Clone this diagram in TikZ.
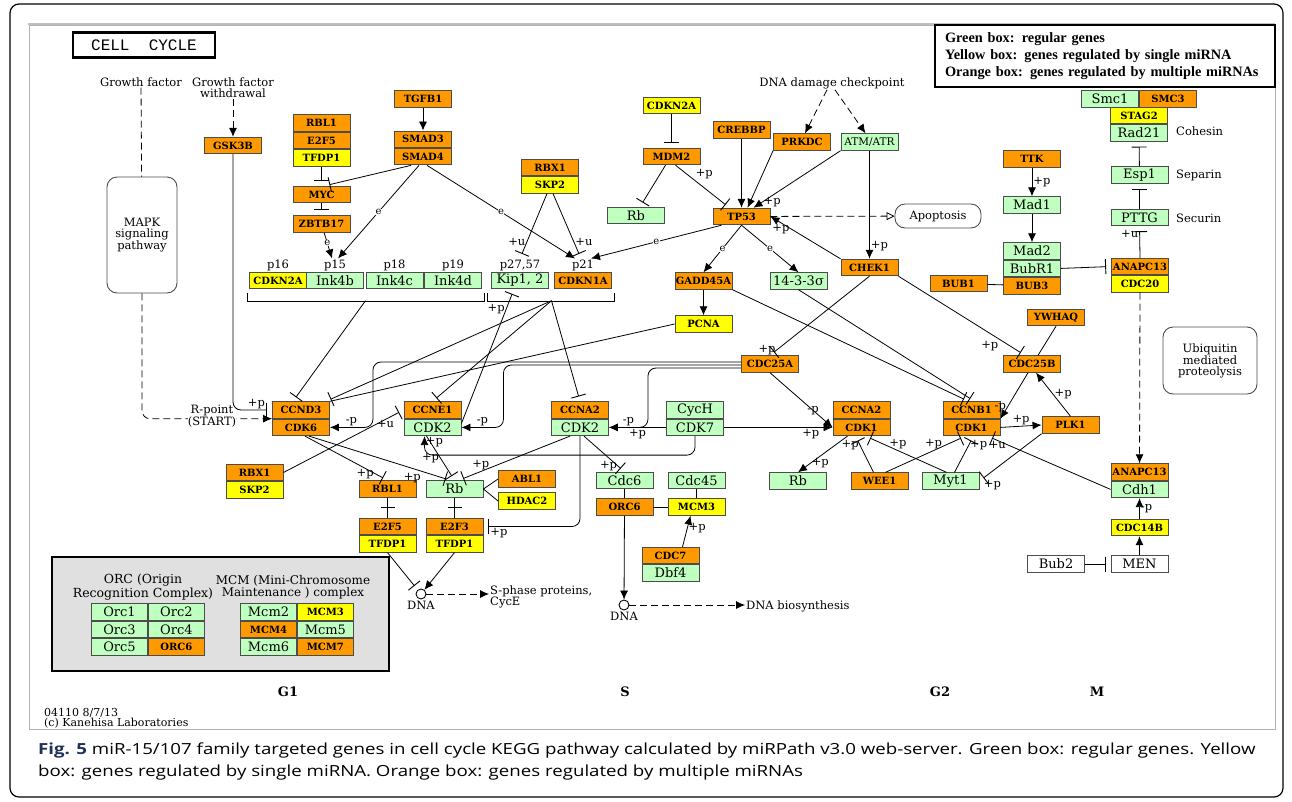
\documentclass[tikz,border=0pt]{standalone}
\usepackage{fontspec}
\usepackage{xcolor}
\usepackage{tikz}
\usetikzlibrary{arrows.meta,positioning,calc,decorations.markings}

\newfontfamily\keggfont{DejaVu Serif}
\newfontfamily\legendfont{Liberation Serif}
\newfontfamily\capfont[FakeStretch=1.22]{Open Sans}
\setmonofont{Liberation Mono}

\definecolor{kgreen}{RGB}{191,255,191}
\definecolor{kyellow}{RGB}{255,255,0}
\definecolor{korange}{RGB}{255,153,0}
\definecolor{figblue}{RGB}{30,50,90}

\newcommand{\genefont}{\keggfont\bfseries\fontsize{10}{10}\selectfont}
\newcommand{\protfont}{\keggfont\fontsize{13}{13}\selectfont}
\newcommand{\keggtext}{\keggfont\fontsize{11.5}{11}\selectfont}

\tikzset{
    gene/.style={
        draw=black!70,
        line width=0.9pt,
        minimum width=57pt,
        minimum height=16.5pt,
        inner sep=0pt
    },
    greenbox/.style={gene, fill=kgreen, font=\protfont},
    yellowbox/.style={gene, fill=kyellow, font=\genefont},
    orangebox/.style={gene, fill=korange, font=\genefont},
    whitebox/.style={gene, fill=white, font=\protfont},
    pathbox/.style={
        draw=black!70,
        line width=0.9pt,
        rounded corners=10pt,
        fill=white,
        align=center,
        font=\keggtext
    },
    lbl/.style={font=\keggtext, inner sep=1pt},
    elbl/.style={font=\keggfont\fontsize{10}{10}\selectfont, fill=white, inner sep=0.5pt},
    phase/.style={font=\keggfont\bfseries\fontsize{13}{13}\selectfont},
    dnacirc/.style={circle, draw, line width=0.9pt, fill=white, minimum size=10pt, inner sep=0pt},
    bind/.style={line width=0.8pt},
    act/.style={
        line width=0.8pt,
        -{Latex[length=9pt,width=8pt]}
    },
    inh/.style={
        line width=0.8pt,
        -{Bar[width=15pt,line width=0.9pt]},
        shorten >=5pt
    },
    dashline/.style={line width=0.8pt, dash pattern=on 7pt off 4pt},
    dashact/.style={act, dash pattern=on 7pt off 4pt},
    crossbar/.style={
        bind,
        postaction={decorate},
        decoration={markings, mark=at position 0.5 with {\draw[line width=0.8pt] (0pt,-7pt) -- (0pt,7pt);}}
    }
}

\begin{document}
\begin{tikzpicture}[x=1pt,y=-1pt]
    \useasboundingbox (0,0) rectangle (1292,801);
    \draw[black, line width=1.2pt, rounded corners=9pt] (10,4) rectangle (1283,797);
    \draw[black!30, line width=0.8pt] (29,25) rectangle (1275,729);
    \draw[black!25, line width=2pt] (28,24) -- (1275,24);

    % title and legend
    \node[draw, line width=2.2pt, minimum width=142pt, minimum height=25pt,
          font=\ttfamily\fontsize{16}{16}\selectfont] (title) at (144,45) {CELL\ \ CYCLE};
    \node[draw, line width=1.6pt, minimum width=340pt, minimum height=62pt,
          text width=320pt, inner xsep=10pt, align=left,
          font=\legendfont\bfseries\fontsize{14.3}{17}\selectfont] (legend) at (1105,56) {
        Green box: regular genes\\
        Yellow box: genes regulated by single miRNA\\
        Orange box: genes regulated by multiple miRNAs
    };

    % growth factor inputs
    \node[lbl] (gf) at (141,82) {Growth factor};
    \node[lbl, align=center] (gfw) at (233,88) {Growth factor\\withdrawal};
    \node[pathbox, minimum width=70pt, minimum height=116pt] (mapk) at (142,235) {MAPK\\signaling\\pathway};
    \node[orangebox] (gsk3b) at (233,145.5) {GSK3B};

    % TGF-beta / MYC branch
    \node[orangebox] (rbl1a) at (321.5,123) {RBL1};
    \node[orangebox, below=0pt of rbl1a] (e2f5a) {E2F5};
    \node[yellowbox, below=0pt of e2f5a] (tfdp1a) {TFDP1};
    \node[orangebox] (myc) at (321.5,194.5) {MYC};
    \node[orangebox] (zbtb17) at (321.5,224) {ZBTB17};
    \node[orangebox] (tgfb1) at (423,99) {TGFB1};
    \node[orangebox] (smad3) at (423,139.25) {SMAD3};
    \node[orangebox, below=0pt of smad3] (smad4) {SMAD4};
    \node[orangebox] (rbx1b) at (550,167.5) {RBX1};
    \node[yellowbox, below=0pt of rbx1b] (skp2b) {SKP2};

    % CDK inhibitors
    \node[yellowbox] (cdkn2ab) at (278,280.5) {CDKN2A};
    \node[greenbox] (ink4b) at (335,280.5) {Ink4b};
    \node[greenbox] (ink4c) at (394.5,280.5) {Ink4c};
    \node[greenbox] (ink4d) at (453,280.5) {Ink4d};
    \node[greenbox] (kip) at (520,280.5) {Kip1, 2};
    \node[orangebox] (cdkn1a) at (583,280.5) {CDKN1A};
    \node[lbl, above=0pt of cdkn2ab] (lp16) {p16};
    \node[lbl, above=0pt of ink4b] (lp15) {p15};
    \node[lbl, above=0pt of ink4c] (lp18) {p18};
    \node[lbl, above=0pt of ink4d] (lp19) {p19};
    \node[lbl, above=0pt of kip] (lp2757) {p27,57};
    \node[lbl, above=0pt of cdkn1a] (lp21) {p21};

    % p53 branch
    \node[lbl] (dnadam) at (832,83) {DNA damage checkpoint};
    \node[yellowbox] (cdkn2at) at (671.5,105.5) {CDKN2A};
    \node[orangebox] (mdm2) at (671.5,156.5) {MDM2};
    \node[greenbox] (rbt) at (636,215.5) {Rb};
    \node[orangebox] (crebbp) at (741.5,130) {CREBBP};
    \node[orangebox] (prkdc) at (802,142) {PRKDC};
    \node[greenbox, font=\keggfont\fontsize{10.5}{10.5}\selectfont] (atm) at (869.5,142) {ATM/ATR};
    \node[orangebox] (tp53) at (741.5,216.5) {TP53};
    \node[pathbox, minimum width=86pt, minimum height=24pt] (apop) at (938,216) {Apoptosis};
    \node[orangebox] (chek1) at (869.5,267.5) {CHEK1};
    \node[orangebox] (gadd45a) at (703.5,281) {GADD45A};
    \node[greenbox] (sfn) at (798.5,281) {14-3-3σ};
    \node[yellowbox] (pcna) at (703.5,324) {PCNA};
    \node[orangebox] (cdc25a) at (770,364) {CDC25A};

    % cyclin/CDK complexes
    \node[orangebox] (ccnd3) at (301,410) {CCND3};
    \node[orangebox, below=0pt of ccnd3] (cdk6) {CDK6};
    \node[orangebox] (ccne1) at (432.5,410) {CCNE1};
    \node[greenbox, below=0pt of ccne1] (cdk2e) {CDK2};
    \node[orangebox] (ccna2a) at (580,410) {CCNA2};
    \node[greenbox, below=0pt of ccna2a] (cdk2a) {CDK2};
    \node[greenbox] (cych) at (695,410) {CycH};
    \node[greenbox, below=0pt of cych] (cdk7) {CDK7};
    \node[orangebox] (ccna2b) at (861.5,410) {CCNA2};
    \node[orangebox, below=0pt of ccna2b] (cdk1a) {CDK1};
    \node[orangebox] (ccnb1) at (971.5,410) {CCNB1};
    \node[orangebox, below=0pt of ccnb1] (cdk1b) {CDK1};
    \node[orangebox] (plk1) at (1070.5,425) {PLK1};
    \node[orangebox] (cdc25b) at (1032,364) {CDC25B};
    \node[orangebox] (ywhaq) at (1056,317.5) {YWHAQ};
    \node[orangebox] (rbx1a) at (254.5,472.5) {RBX1};
    \node[yellowbox, below=0pt of rbx1a] (skp2a) {SKP2};

    % G1/S targets
    \node[orangebox] (rbl1b) at (387.5,489) {RBL1};
    \node[orangebox] (e2f5b) at (387.5,526.5) {E2F5};
    \node[yellowbox, below=0pt of e2f5b] (tfdp1b) {TFDP1};
    \node[greenbox] (rbm) at (454.5,489) {Rb};
    \node[orangebox] (e2f3) at (454.5,526.5) {E2F3};
    \node[yellowbox, below=0pt of e2f3] (tfdp1c) {TFDP1};
    \node[orangebox] (abl1) at (527,479) {ABL1};
    \node[yellowbox] (hdac2) at (527,501) {HDAC2};
    \node[dnacirc] (dna1) at (421,594) {};
    \node[lbl, below=0pt of dna1] (dna1lbl) {DNA};
    \node[lbl, anchor=west, align=left] (sphase) at (489,597) {S-phase proteins,\\CycE};

    % S phase
    \node[greenbox] (cdc6) at (624.5,480.5) {Cdc6};
    \node[greenbox] (cdc45) at (696.5,480.5) {Cdc45};
    \node[orangebox] (orc6) at (624.5,507) {ORC6};
    \node[yellowbox] (mcm3) at (696.5,507) {MCM3};
    \node[orangebox] (cdc7) at (670.5,555.5) {CDC7};
    \node[greenbox, below=0pt of cdc7] (dbf4) {Dbf4};
    \node[dnacirc] (dna2) at (624,605) {};
    \node[lbl, below=0pt of dna2] (dna2lbl) {DNA};
    \node[lbl, anchor=west] (dnabio) at (745,606) {DNA biosynthesis};

    % G2/M
    \node[greenbox] (rbr) at (798,481) {Rb};
    \node[orangebox] (wee1) at (879.5,481) {WEE1};
    \node[greenbox] (myt1) at (950.5,481) {Myt1};
    \node[orangebox] (ttk) at (1032,159) {TTK};
    \node[greenbox] (mad1) at (1032,205) {Mad1};
    \node[greenbox] (mad2) at (1032,251) {Mad2};
    \node[greenbox, below=0pt of mad2] (bubr1) {BubR1};
    \node[orangebox, below=0pt of bubr1] (bub3) {BUB3};
    \node[orangebox] (bub1) at (958.5,283.5) {BUB1};
    \node[orangebox] (anapc13a) at (1140,266.5) {ANAPC13};
    \node[yellowbox, below=0pt of anapc13a] (cdc20) {CDC20};
    \node[greenbox] (smc1) at (1110,99) {Smc1};
    \node[orangebox, right=0pt of smc1] (smc3) {SMC3};
    \node[yellowbox] (stag2) at (1139,115.5) {STAG2};
    \node[greenbox, below=0pt of stag2] (rad21) {Rad21};
    \node[greenbox] (esp1) at (1139.5,175) {Esp1};
    \node[greenbox] (pttg) at (1139.5,217.5) {PTTG};
    \node[lbl, anchor=west] (cohesin) at (1175,131) {Cohesin};
    \node[lbl, anchor=west] (separin) at (1175,175) {Separin};
    \node[lbl, anchor=west] (securin) at (1175,218) {Securin};
    \node[pathbox, minimum width=94pt, minimum height=67pt] (ubiq) at (1210,360.5) {Ubiquitin\\mediated\\proteolysis};
    \node[orangebox] (anapc13b) at (1139.5,472) {ANAPC13};
    \node[greenbox, below=0pt of anapc13b] (cdh1) {Cdh1};
    \node[yellowbox] (cdc14b) at (1139.5,527.5) {CDC14B};
    \node[whitebox] (men) at (1139.5,564) {MEN};
    \node[whitebox] (bub2) at (1056,564) {Bub2};

    % ORC / MCM inset
    \node[draw, line width=2.5pt, fill=black!12, minimum width=337pt, minimum height=114pt] (inset) at (220.5,614) {};
    \node[lbl, align=center, font=\keggfont\fontsize{12.5}{10.5}\selectfont] (orctitle) at (143,587) {ORC (Origin\\Recognition Complex)};
    \node[lbl, align=center, font=\keggfont\fontsize{12}{10.5}\selectfont] (mcmtitle) at (293,587) {MCM (Mini-Chromosome\\Maintenance ) complex};
    \node[greenbox, minimum width=56pt] (orc1) at (119.5,612) {Orc1};
    \node[greenbox, minimum width=56pt, right=0pt of orc1] (orc2) {Orc2};
    \node[greenbox, minimum width=56pt, below=0pt of orc1] (orc3) {Orc3};
    \node[greenbox, minimum width=56pt, right=0pt of orc3] (orc4) {Orc4};
    \node[greenbox, minimum width=56pt, below=0pt of orc3] (orc5) {Orc5};
    \node[orangebox, minimum width=56pt, right=0pt of orc5] (orc6g) {ORC6};
    \node[greenbox, minimum width=56pt] (mcm2) at (268.5,612) {Mcm2};
    \node[yellowbox, minimum width=56pt, right=0pt of mcm2] (mcm3g) {MCM3};
    \node[orangebox, minimum width=56pt, below=0pt of mcm2] (mcm4) {MCM4};
    \node[greenbox, minimum width=56pt, right=0pt of mcm4] (mcm5) {Mcm5};
    \node[greenbox, minimum width=56pt, below=0pt of mcm4] (mcm6) {Mcm6};
    \node[orangebox, minimum width=56pt, right=0pt of mcm6] (mcm7) {MCM7};

    % phases and footer
    \node[phase] (g1) at (288,692) {G1};
    \node[phase] (sph) at (625,692) {S};
    \node[phase] (g2) at (940,692) {G2};
    \node[phase] (mph) at (1097,692) {M};
    \node[lbl, anchor=north west, align=left, font=\keggfont\fontsize{11}{10.5}\selectfont] (kanehisa) at (43,707) {04110 8/7/13\\(c) Kanehisa Laboratories};

    % caption
    \node[anchor=north west, align=left, inner sep=0pt, font=\capfont\fontsize{15.3}{22}\selectfont] (caption) at (38,743) {
        {\color{figblue}\bfseries Fig. 5} miR-15/107 family targeted genes in cell cycle KEGG pathway calculated by miRPath v3.0 web-server. Green box: regular genes. Yellow\\
        box: genes regulated by single miRNA. Orange box: genes regulated by multiple miRNAs
    };

    % growth factor connectors
    \draw[dashline] (gf) -- (mapk);
    \draw[dashact, rounded corners=8pt] (mapk.south) |- (ccnd3.south west);
    \node[lbl, fill=white, inner sep=0pt, align=center, font=\keggfont\fontsize{11.5}{10}\selectfont] (rpoint) at (212,416) {R-point\\(START)};
    \draw[dashact] (gfw) -- (gsk3b);
    \draw[inh, rounded corners=8pt] (gsk3b) |- (ccnd3.west) node[lbl, pos=0.8, above] {+p};

    % TGF-beta / MYC connectors
    \draw[act] (tgfb1) -- (smad3);
    \draw[inh] (tfdp1a) -- (myc);
    \draw[inh] ([xshift=-12pt]smad4.south) -- ([xshift=3pt]myc.north);
    \draw[inh] (myc) -- (zbtb17);
    \draw[act] (zbtb17) -- ([xshift=-3pt]lp15.north) node[elbl, pos=0.4] {e};
    \draw[act] ([xshift=-4pt]smad4.south) -- ([xshift=3pt]lp15.north) node[elbl, pos=0.5] {e};
    \draw[act] ([xshift=4pt]smad4.south) -- ([xshift=-8pt]lp21.north) node[elbl, pos=0.5] {e};
    \draw[inh] ([xshift=-3pt]skp2b.south) -- (lp2757.north) node[lbl, pos=0.75, left] {+u};
    \draw[inh] ([xshift=3pt]skp2b.south) -- ([xshift=-2pt]lp21.north) node[lbl, pos=0.75, right] {+u};
    \draw[act] ([xshift=-20pt]tp53.south) -- ([xshift=8pt]lp21.north) node[elbl, pos=0.5] {e};

    % inhibitor brackets
    \draw[bind] ([xshift=-2pt,yshift=-4pt]cdkn2ab.south west) -- ++(0,8) -| ([xshift=2pt,yshift=-4pt]ink4d.south east);
    \draw[bind] ([xshift=-4pt,yshift=-4pt]kip.south west) -- ++(0,8) -| ([xshift=2pt,yshift=-4pt]cdkn1a.south east);
    \coordinate (inkbr) at ($(cdkn2ab.south west)!0.5!(ink4d.south east)+(0,11.5)$);
    \coordinate (cipbr) at ($(kip.south west)!0.5!(cdkn1a.south east)+(0,11.5)$);
    \draw[inh] (inkbr) -- ([xshift=-8pt]ccnd3.north);
    \draw[inh] (cipbr) -- ([xshift=-4pt]ccnd3.north east);
    \draw[inh] (cipbr) -- (ccne1.north);
    \draw[inh] (cipbr) -- (ccna2a.north);
    \draw[bind] (pcna.west) -- (ccnd3.north east);
    \draw[inh] ([yshift=4pt]cdk2e.east) -- ([xshift=-6pt]kip.south) node[lbl, pos=0.85, left] {+p};

    % CDC25A and CAK
    \draw[act, rounded corners=8pt] ([yshift=2pt]cdc25a.west) -| ([xshift=43pt]cdk6.east) -- (cdk6.east) node[lbl, midway, above] {-p};
    \draw[act, rounded corners=8pt] ([yshift=-1pt]cdc25a.west) -| ([xshift=42pt]cdk2e.east) -- (cdk2e.east) node[lbl, midway, above] {-p};
    \draw[act, rounded corners=8pt] ([yshift=-4pt]cdc25a.west) -| ([xshift=39pt]cdk2a.east) -- (cdk2a.east) node[lbl, midway, above] {-p};
    \draw[act] (cdc25a.south) -- (cdk1a.west) node[lbl, pos=0.8, above left] {-p};
    \draw[act] (cdk7.west) -- (cdk2a.east) node[lbl, midway, below] {+p};
    \draw[act] (cdk7.east) -- (cdk1a.west) node[lbl, pos=0.8, below] {+p};
    \draw[act, rounded corners=8pt] (cdk7.south) -- ++(0,19) -| ([xshift=-8pt]cdk2e.south) node[lbl, pos=0.85, right] {+p};

    % G1 targets connectors
    \draw[inh] ([xshift=4pt]cdk6.south) -- (rbl1b.north) node[lbl, pos=0.85, left] {+p};
    \draw[inh] ([xshift=8pt]cdk6.south) -- ([xshift=-4pt]rbm.north) node[lbl, pos=0.8, below left] {+p};
    \draw[inh] (rbx1a.east) -- (ccne1.west) node[lbl, pos=0.85, below] {+u};
    \draw[inh] ([xshift=-6pt]cdk2e.south) -- (rbm.north) node[lbl, pos=0.5, left] {+p};
    \draw[inh] ([xshift=-10pt]cdk2a.south) -- ([xshift=4pt]rbm.north) node[lbl, pos=0.8, above] {+p};
    \draw[crossbar] (rbm) -- (e2f3);
    \draw[crossbar] (rbl1b) -- (e2f5b);
    \draw[bind] (rbm.east) -- (abl1.west);
    \draw[bind] (rbm.east) -- (hdac2.west);
    \draw[inh] (tfdp1b.south) -- (dna1);
    \draw[act] (tfdp1c.south) -- (dna1);
    \draw[dashact] (dna1.east) -- (dna1.east -| sphase.west);

    % S phase connectors
    \draw[inh] ([xshift=4pt]cdk2a.south) -- (cdc6.north) node[lbl, pos=0.85, left] {+p};
    \draw[inh, rounded corners=8pt] (cdk2a.south) |- (e2f3.east) node[lbl, pos=0.92, below] {+p};
    \draw[bind] (cdc6) -- (orc6);
    \draw[bind] (cdc45) -- (mcm3);
    \draw[bind] (orc6) -- (mcm3);
    \draw[act] ([xshift=12pt]cdc7.north) -- ([xshift=-6pt]mcm3.south) node[lbl, pos=0.6, right] {+p};
    \draw[act] (orc6) -- (dna2);
    \draw[dashact] (dna2.east) -- (dna2.east -| dnabio.west);

    % p53 connectors
    \draw[inh] (cdkn2at) -- (mdm2);
    \draw[inh] ([xshift=-6pt]mdm2.south) -- ([xshift=4pt]rbt.north);
    \draw[inh] ([xshift=4pt]mdm2.south) -- ([xshift=-12pt]tp53.north) node[lbl, pos=0.35, above right] {+p};
    \draw[act] (crebbp) -- (tp53);
    \draw[act] (prkdc.south west) -- ([xshift=6pt]tp53.north);
    \draw[act] (atm.south west) -- ([xshift=12pt]tp53.north) node[lbl, pos=0.9, right] {+p};
    \draw[dashact] ([xshift=-5pt]dnadam.south) -- ([xshift=3pt]prkdc.north);
    \draw[dashact] ([xshift=3pt]dnadam.south) -- ([xshift=-4pt]atm.north);
    \draw[act] (atm) -- (chek1) node[lbl, pos=0.88, right] {+p};
    \draw[act] (chek1.north west) -- (tp53.east) node[lbl, pos=0.85, below] {+p};
    \draw[dashline, -{Triangle[open, length=8pt, width=8pt]}] (tp53) -- (apop);
    \draw[act] (tp53.south) -- (gadd45a.north) node[elbl, midway] {e};
    \draw[act] (tp53.south) -- (sfn.north) node[elbl, midway] {e};
    \draw[act] (gadd45a) -- (pcna);
    \draw[inh] (chek1.south) -- (cdc25a.north) node[lbl, pos=0.93, left] {+p};
    \draw[inh] (chek1.south east) -- ([xshift=-7pt]cdc25b.north) node[lbl, pos=0.8, below left] {+p};
    \draw[inh] (gadd45a.south east) -- ([xshift=-3pt]ccnb1.north);
    \draw[inh] (sfn.south) -- ([xshift=3pt]ccnb1.north);

    % G2/M connectors
    \draw[act] ([xshift=-14pt]cdk1a.south) -- (rbr.north) node[lbl, pos=0.75, right] {+p};
    \draw[inh] ([xshift=-6pt]wee1.north) -- ([xshift=-6pt]cdk1a.south) node[lbl, pos=0.75, left] {+p};
    \draw[inh] ([xshift=-4pt]myt1.north) -- ([xshift=4pt]cdk1a.south) node[lbl, pos=0.6, above] {+p};
    \draw[inh] ([xshift=6pt]wee1.north) -- ([xshift=-6pt]cdk1b.south) node[lbl, pos=0.6, above] {+p};
    \draw[inh] ([xshift=4pt]myt1.north) -- ([xshift=2pt]cdk1b.south) node[lbl, pos=0.75, right] {+p};
    \draw[inh] (cdh1.west) -- ([xshift=16pt]cdk1b.south) node[lbl, pos=0.92, below] {+u};
    \draw[inh] (plk1.south west) -- (myt1.east) node[lbl, pos=0.95, below right] {+p};
    \draw[act] (cdk1b.east) -- (plk1.west) node[lbl, midway, above] {+p};
    \draw[act] (plk1.north) -- ([xshift=4pt]cdc25b.south) node[lbl, midway, right] {+p};
    \draw[act] ([xshift=-4pt]cdc25b.south) -- (cdk1b.north east) node[lbl, pos=0.75, left] {-p};
    \draw[bind] (ywhaq.south) -- ([xshift=6pt]cdc25b.north);

    % spindle checkpoint and APC
    \draw[act] (ttk) -- (mad1) node[lbl, midway, right] {+p};
    \draw[act] (mad1) -- (mad2);
    \draw[bind] (bub1) -- (bub3);
    \draw[inh] (bubr1.east) -- (anapc13a.west);
    \draw[inh] (anapc13a.north) -- (pttg.south) node[lbl, pos=0.75, left] {+u};
    \draw[inh] (pttg) -- (esp1);
    \draw[inh] (esp1) -- (rad21);
    \draw[dashact] (cdc20) -- (anapc13b);
    \draw[act] (cdc14b) -- (cdh1) node[lbl, midway, right] {-p};
    \draw[act] (men) -- (cdc14b);
    \draw[inh] (bub2) -- (men);
\end{tikzpicture}
\end{document}
